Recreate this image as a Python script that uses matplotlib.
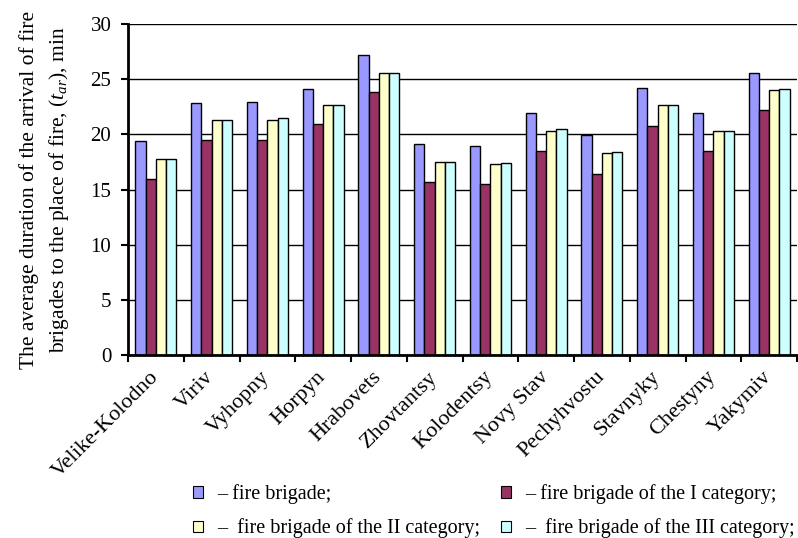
import numpy as np
import matplotlib
matplotlib.use('Agg')
import matplotlib.pyplot as plt
import matplotlib.transforms as mtrans
from matplotlib.patches import Patch

plt.rcParams['font.family'] = ['Liberation Serif', 'DejaVu Serif']
plt.rcParams['mathtext.fontset'] = 'custom'
plt.rcParams['mathtext.rm'] = 'Liberation Serif'
plt.rcParams['mathtext.it'] = 'Liberation Serif:italic'

villages = ['Velike-Kolodno', 'Viriv', 'Vyhopny', 'Horpyn', 'Hrabovets', 'Zhovtantsy',
            'Kolodentsy', 'Novy Stav', 'Pechyhvostu', 'Stavnyky', 'Chestyny', 'Yakymiv']
fire_brigade = [19.4, 22.8, 22.9, 24.1, 27.2, 19.1, 18.9, 21.9, 19.9, 24.2, 21.9, 25.6]
cat_1 = [16.0, 19.5, 19.5, 20.9, 23.8, 15.7, 15.5, 18.5, 16.4, 20.8, 18.5, 22.2]
cat_2 = [17.8, 21.3, 21.3, 22.7, 25.6, 17.5, 17.3, 20.3, 18.3, 22.7, 20.3, 24.0]
cat_3 = [17.8, 21.3, 21.5, 22.7, 25.6, 17.5, 17.4, 20.5, 18.4, 22.7, 20.3, 24.1]

series = [fire_brigade, cat_1, cat_2, cat_3]
colors = ['#9999FF', '#993366', '#FFFFCC', '#CCFFFF']
labels = ['– fire brigade;', '– fire brigade of the I category;',
          '–  fire brigade of the II category;', '–  fire brigade of the III category;']

fig = plt.figure(figsize=(7.98, 5.38), dpi=100)
ax = fig.add_axes([0.1604, 0.340, 0.8384, 0.6154])

x = np.arange(len(villages))
w = 0.183
for i, s in enumerate(series):
    ax.bar(x + (i - 1.5) * w, s, w, color=colors[i], edgecolor='black', linewidth=1.0, zorder=3)

ax.set_xlim(-0.5, len(villages) - 0.5)
ax.set_ylim(0, 30)
ax.set_yticks(np.arange(0, 31, 5))
ax.grid(axis='y', color='black', linewidth=1.0, zorder=0)
ax.set_xticks(x)
ax.set_xticklabels(villages, rotation=45, ha='right', rotation_mode='anchor', fontsize=16)
ax.tick_params(axis='x', length=0, pad=9)
ax.set_xticks(np.arange(-0.5, len(villages), 1), minor=True)
ax.tick_params(axis='x', which='minor', length=5, width=1.5, direction='out')
ax.tick_params(axis='y', labelsize=15, length=5, width=1.5, direction='out', pad=7)

# shift the rotated names a bit to the left, as in the original
shift = mtrans.ScaledTranslation(-7 / 100, 0, fig.dpi_scale_trans)
for lab in ax.get_xticklabels():
    lab.set_transform(lab.get_transform() + shift)

for side in ['top', 'right']:
    ax.spines[side].set_visible(False)
ax.spines['left'].set_linewidth(2)
ax.spines['bottom'].set_linewidth(2)
ax.spines['left'].set_zorder(5)
ax.spines['bottom'].set_zorder(5)

ax.set_ylabel('The average duration of the arrival of fire\nbrigades to the place of fire, ($\\mathit{t}_{ar}$), min',
              fontsize=15.5, linespacing=1.45)
ax.yaxis.set_label_coords(-0.085, 0.5)

order = [0, 2, 1, 3]
handles = [Patch(facecolor=colors[k], edgecolor='black', linewidth=0.8) for k in order]
fig.legend(handles, [labels[k] for k in order], loc='lower left', bbox_to_anchor=(0.224, -0.027), ncol=2,
           frameon=False, fontsize=14.5, handlelength=0.5, handleheight=0.5,
           handletextpad=0.7, columnspacing=1.05, labelspacing=0.72, borderpad=0.2)

plt.savefig('out.png', dpi=100)
